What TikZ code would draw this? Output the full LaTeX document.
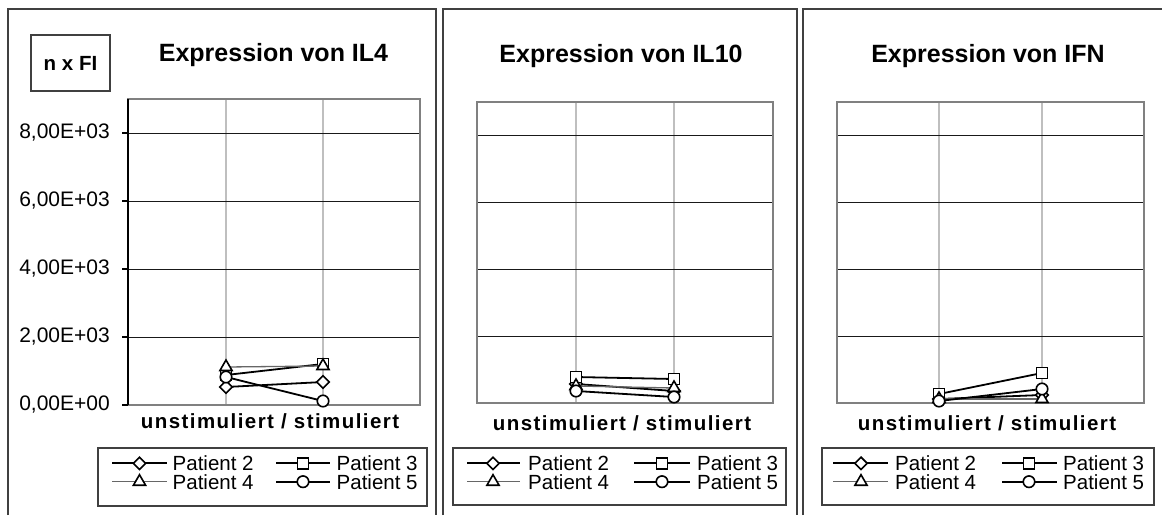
\documentclass[tikz,border=0pt]{standalone}
\usepackage{fontspec}
\setmainfont{Liberation Sans}
\usetikzlibrary{shapes.geometric}
\newcommand\mytitlefont{\fontsize{25}{30}\selectfont\bfseries}
\newcommand\mylegfont{\fontsize{20.5}{22}\selectfont}
\newcommand\myaxfont{\fontsize{21}{24}\selectfont}
\newcommand\mycatfont{\fontsize{20.5}{24}\selectfont\bfseries\addfontfeature{LetterSpace=7}}
\begin{document}
\begin{tikzpicture}[x=1pt,y=-1pt,
  panelline/.style={draw=black!75, line width=1.2pt},
  plotbox/.style={draw=black!50, line width=1.6pt},
  hgrid/.style={draw=black!90, line width=1pt},
  vgrid/.style={draw=black!25, line width=1.1pt},
  serline/.style={draw=black, line width=1.8pt},
  serlinegray/.style={draw=black!60, line width=1.3pt},
  mkbase/.style={draw=black, fill=white, line width=1.6pt, inner sep=0pt},
  dmk/.style={mkbase, diamond, minimum width=13pt, minimum height=13pt},
  smk/.style={mkbase, rectangle, minimum size=11pt},
  cmk/.style={mkbase, circle, minimum size=11.5pt},
  tmk/.style={mkbase, regular polygon, regular polygon sides=3, minimum size=14pt},
  legbox/.style={draw=black!75, line width=1.2pt},
  legtext/.style={anchor=west, inner sep=0pt, font=\mylegfont},
  ylab/.style={anchor=east, inner sep=0pt, font=\myaxfont},
  ttl/.style={inner sep=0pt, font=\mytitlefont},
  cat/.style={inner sep=0pt, font=\mycatfont}
]
\useasboundingbox[fill=white] (0,0) rectangle (1162,515);

% panel frames
\draw[panelline] (8,515) -- (8,9) -- (436,9) -- (436,515);
\draw[panelline] (443,515) -- (443,9) -- (797,9) -- (797,515);
\draw[panelline] (803,515) -- (803,9) -- (1163,9);

% ---------- Panel 1 ----------
\node[draw=black!75, line width=1.2pt, minimum width=79pt, minimum height=56pt, font=\fontsize{20.5}{24}\selectfont\bfseries] (unit) at (70.5,63) {n x FI};
\node[ttl] (t1) at (273.5,55) {Expression von IL4};
\foreach \x in {226,323} \draw[vgrid] (\x,99) -- (\x,405);
\foreach \y in {133,201,269,337} \draw[hgrid] (128,\y) -- (420,\y);
\draw[plotbox] (128,99) rectangle (420,405);
\draw[black, line width=1.2pt] (128,99) -- (128,405);
\foreach \y in {133,201,269,337,405} \draw[black, line width=1.2pt] (122,\y) -- (128,\y);
\node[ylab] (y0) at (110,405) {0,00E+00};
\node[ylab] (y2) at (110,337) {2,00E+03};
\node[ylab] (y4) at (110,269) {4,00E+03};
\node[ylab] (y6) at (110,201) {6,00E+03};
\node[ylab] (y8) at (110,133) {8,00E+03};
\node[cat] (c1) at (270,421) {unstimuliert / stimuliert};

\coordinate (a2l) at (226,387); \coordinate (a2r) at (323,382);
\coordinate (a3l) at (226,375); \coordinate (a3r) at (323,364);
\coordinate (a4l) at (226,367); \coordinate (a4r) at (323,366);
\coordinate (a5l) at (226,377); \coordinate (a5r) at (323,401);
\draw[serline] (a2l) -- (a2r);
\node[dmk] (ma2l) at (a2l) {}; \node[dmk] (ma2r) at (a2r) {};
\draw[serline] (a3l) -- (a3r);
\node[smk] (ma3l) at (a3l) {}; \node[smk] (ma3r) at (a3r) {};
\draw[serlinegray] (a4l) -- (a4r);
\node[tmk] (ma4l) at (a4l) {}; \node[tmk] (ma4r) at (a4r) {};
\draw[serline] (a5l) -- (a5r);
\node[cmk] (ma5l) at (a5l) {}; \node[cmk] (ma5r) at (a5r) {};

\draw[legbox] (98,448) rectangle (427,506);
\coordinate (la1) at (112,463.3); \coordinate (la2) at (167,463.3);
\coordinate (la3) at (276,463.3); \coordinate (la4) at (330,463.3);
\coordinate (la5) at (112,481.7); \coordinate (la6) at (167,481.7);
\coordinate (la7) at (276,481.7); \coordinate (la8) at (330,481.7);
\draw[serline] (la1) -- (la2); \node[dmk] (lma2) at (139.5,463.3) {};
\draw[serline] (la3) -- (la4); \node[smk] (lma3) at (303,463.3) {};
\draw[serlinegray] (la5) -- (la6); \node[tmk] (lma4) at (139.5,481.7) {};
\draw[serline] (la7) -- (la8); \node[cmk] (lma5) at (303,481.7) {};
\node[legtext] (lta2) at (172.5,463.3) {Patient 2};
\node[legtext] (lta3) at (336.5,463.3) {Patient 3};
\node[legtext] (lta4) at (172.5,481.7) {Patient 4};
\node[legtext] (lta5) at (336.5,481.7) {Patient 5};

% ---------- Panel 2 ----------
\node[ttl] (t2) at (621,56) {Expression von IL10};
\foreach \x in {576,674} \draw[vgrid] (\x,102) -- (\x,403);
\foreach \y in {135.4,202.3,269.2,336.1} \draw[hgrid] (477,\y) -- (773,\y);
\draw[plotbox] (477,102) rectangle (773,403);
\node[cat] (c2) at (622,423) {unstimuliert / stimuliert};

\coordinate (b2l) at (576,384); \coordinate (b2r) at (674,391);
\coordinate (b3l) at (576,377); \coordinate (b3r) at (674,379);
\coordinate (b4l) at (576,386); \coordinate (b4r) at (674,388);
\coordinate (b5l) at (576,391); \coordinate (b5r) at (674,397);
\draw[serline] (b2l) -- (b2r);
\node[dmk] (mb2l) at (b2l) {}; \node[dmk] (mb2r) at (b2r) {};
\draw[serline] (b3l) -- (b3r);
\node[smk] (mb3l) at (b3l) {}; \node[smk] (mb3r) at (b3r) {};
\draw[serlinegray] (b4l) -- (b4r);
\node[tmk] (mb4l) at (b4l) {}; \node[tmk] (mb4r) at (b4r) {};
\draw[serline] (b5l) -- (b5r);
\node[cmk] (mb5l) at (b5l) {}; \node[cmk] (mb5r) at (b5r) {};

\draw[legbox] (453,448) rectangle (786,505);
\coordinate (lb1) at (467,463.3); \coordinate (lb2) at (520,463.3);
\coordinate (lb3) at (634,463.3); \coordinate (lb4) at (690,463.3);
\coordinate (lb5) at (467,481.7); \coordinate (lb6) at (520,481.7);
\coordinate (lb7) at (634,481.7); \coordinate (lb8) at (690,481.7);
\draw[serline] (lb1) -- (lb2); \node[dmk] (lmb2) at (493,463.3) {};
\draw[serline] (lb3) -- (lb4); \node[smk] (lmb3) at (662,463.3) {};
\draw[serlinegray] (lb5) -- (lb6); \node[tmk] (lmb4) at (493,481.7) {};
\draw[serline] (lb7) -- (lb8); \node[cmk] (lmb5) at (662,481.7) {};
\node[legtext] (ltb2) at (528,463.3) {Patient 2};
\node[legtext] (ltb3) at (697,463.3) {Patient 3};
\node[legtext] (ltb4) at (528,481.7) {Patient 4};
\node[legtext] (ltb5) at (697,481.7) {Patient 5};

% ---------- Panel 3 ----------
\node[ttl] (t3) at (988,56) {Expression von IFN};
\foreach \x in {939,1042} \draw[vgrid] (\x,102) -- (\x,403);
\foreach \y in {135.4,202.3,269.2,336.1} \draw[hgrid] (837,\y) -- (1144,\y);
\draw[plotbox] (837,102) rectangle (1144,403);
\node[cat] (c3) at (987,423) {unstimuliert / stimuliert};

\coordinate (c2l) at (939,399); \coordinate (c2r) at (1042,395);
\coordinate (c3l) at (939,394); \coordinate (c3r) at (1042,373);
\coordinate (c4l) at (939,399); \coordinate (c4r) at (1042,399);
\coordinate (c5l) at (939,401); \coordinate (c5r) at (1042,389);
\draw[serline] (c2l) -- (c2r);
\node[dmk] (mc2l) at (c2l) {}; \node[dmk] (mc2r) at (c2r) {};
\draw[serline] (c3l) -- (c3r);
\node[smk] (mc3l) at (c3l) {}; \node[smk] (mc3r) at (c3r) {};
\draw[serlinegray] (c4l) -- (c4r);
\node[tmk] (mc4l) at (c4l) {}; \node[tmk] (mc4r) at (c4r) {};
\draw[serline] (c5l) -- (c5r);
\node[cmk] (mc5l) at (c5l) {}; \node[cmk] (mc5r) at (c5r) {};

\draw[legbox] (822,448) rectangle (1154,505);
\coordinate (lc1) at (833,463.3); \coordinate (lc2) at (888,463.3);
\coordinate (lc3) at (1002,463.3); \coordinate (lc4) at (1057,463.3);
\coordinate (lc5) at (833,481.7); \coordinate (lc6) at (888,481.7);
\coordinate (lc7) at (1002,481.7); \coordinate (lc8) at (1057,481.7);
\draw[serline] (lc1) -- (lc2); \node[dmk] (lmc2) at (861,463.3) {};
\draw[serline] (lc3) -- (lc4); \node[smk] (lmc3) at (1029,463.3) {};
\draw[serlinegray] (lc5) -- (lc6); \node[tmk] (lmc4) at (861,481.7) {};
\draw[serline] (lc7) -- (lc8); \node[cmk] (lmc5) at (1029,481.7) {};
\node[legtext] (ltc2) at (895,463.3) {Patient 2};
\node[legtext] (ltc3) at (1063,463.3) {Patient 3};
\node[legtext] (ltc4) at (895,481.7) {Patient 4};
\node[legtext] (ltc5) at (1063,481.7) {Patient 5};
\end{tikzpicture}
\end{document}
